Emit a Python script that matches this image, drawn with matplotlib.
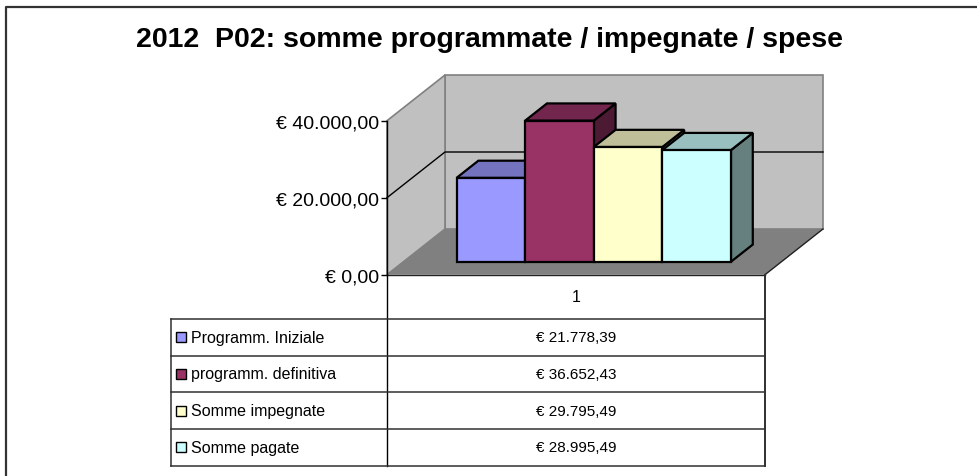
import matplotlib
matplotlib.use("Agg")
import matplotlib.pyplot as plt
from matplotlib.patches import Polygon
from matplotlib.lines import Line2D
from matplotlib.ticker import FuncFormatter
import matplotlib.colors as mcolors

# ---- data ----
series = ["Programm. Iniziale", "programm. definitiva", "Somme impegnate", "Somme pagate"]
values = [21778.39, 36652.43, 29795.49, 28995.49]
category = "1"
yticks = [0, 20000, 40000]
colors = ["#9999FF", "#993366", "#FFFFCC", "#CCFFFF"]
title = "2012  P02: somme programmate / impegnate / spese"

plt.rcParams['font.family'] = ['Liberation Sans', 'DejaVu Sans']

W, H = 978, 477
fig = plt.figure(figsize=(W / 100, H / 100), dpi=100)


def fx(px):
    return px / W


def fy(py):
    return 1 - py / H


def euro(v, pos=None):
    s = "{:,.2f}".format(v).replace(",", "X").replace(".", ",").replace("X", ".")
    return "\u20ac " + s


# ---- main 3D-like plot (front plane axes) ----
ax = fig.add_axes([fx(387), fy(275.7), (765 - 387) / W, (275.7 - 121.7) / H])
XMIN, XMAX = -1.274, 4.236
YMAX = max(yticks)
ax.set_xlim(XMIN, XMAX)
ax.set_ylim(0, YMAX)
ax.patch.set_visible(False)
for s in ["top", "right", "bottom"]:
    ax.spines[s].set_visible(False)
ax.spines["left"].set_color("black")
ax.spines["left"].set_linewidth(1)
ax.spines["left"].set_zorder(20)
ax.set_xticks([])
ax.set_yticks(yticks)
ax.yaxis.set_major_formatter(FuncFormatter(euro))
ax.tick_params(axis="y", direction="out", length=4, width=1, labelsize=14, pad=2)

# oblique depth (in data units)
px_x = (XMAX - XMIN) / (765 - 387)
px_y = YMAX / (275.7 - 121.7)
DX = 58 * px_x
DY = 45.7 * px_y


def P(x, y, z):
    return (x + z * DX, y + z * DY)


def poly(pts, fc, ec, lw, z):
    p = Polygon([P(*q) for q in pts], closed=True, facecolor=fc, edgecolor=ec,
                linewidth=lw, clip_on=False, zorder=z, joinstyle="miter")
    ax.add_patch(p)


wall = "#C0C0C0"
# back wall
poly([(XMIN, 0, 1), (XMAX, 0, 1), (XMAX, YMAX, 1), (XMIN, YMAX, 1)], wall, "#808080", 1.2, 1)
# side wall
poly([(XMIN, 0, 0), (XMIN, 0, 1), (XMIN, YMAX, 1), (XMIN, YMAX, 0)], wall, "#808080", 1.2, 1)
# floor
poly([(XMIN, 0, 0), (XMAX, 0, 0), (XMAX, 0, 1), (XMIN, 0, 1)], "#808080", "none", 0, 2)
fr = [P(XMAX, 0, 0), P(XMAX, 0, 1)]
ax.add_line(Line2D([fr[0][0], fr[1][0]], [fr[0][1], fr[1][1]], color="#202020", lw=1, clip_on=False, zorder=3))
ax.add_line(Line2D([XMIN, XMAX], [0, 0], color="#202020", lw=1, clip_on=False, zorder=3))

# gridlines
for t in yticks:
    if 0 < t < YMAX:
        a, b, c = P(XMIN, t, 0), P(XMIN, t, 1), P(XMAX, t, 1)
        ax.add_line(Line2D([a[0], b[0], c[0]], [a[1], b[1], c[1]], color="black", lw=1,
                           clip_on=False, zorder=2))

# bars
Z0, Z1 = 0.284, 0.66
for i, (v, c) in enumerate(zip(values, colors)):
    x0, x1 = i - 0.5, i + 0.5
    rgb = mcolors.to_rgb(c)
    top = tuple(k * 0.75 for k in rgb)
    side = tuple(k * 0.5 for k in rgb)
    zb = 5 + i * 3
    poly([(x1, 0, Z0), (x1, 0, Z1), (x1, v, Z1), (x1, v, Z0)], side, "black", 1.6, zb)
    poly([(x0, v, Z0), (x1, v, Z0), (x1, v, Z1), (x0, v, Z1)], top, "black", 1.6, zb + 1)
    poly([(x0, 0, Z0), (x1, 0, Z0), (x1, v, Z0), (x0, v, Z0)], c, "black", 1.6, zb + 2)

# ---- data table ----
T_L, T_R, T_T, T_B = 170.7, 765, 276, 466.7
tax = fig.add_axes([fx(T_L), fy(T_B), (T_R - T_L) / W, (T_B - T_T) / H])
tax.axis("off")
n = len(series)
HDR = 44 / 36.7
tax.set_xlim(0, 1)
tax.set_ylim(-n, HDR)
split = (387 - T_L) / (T_R - T_L)
lc = "#303030"
lw = 1.1
tax.plot([split, split], [-n, HDR], color="black", lw=1, clip_on=False)
tax.plot([1, 1], [-n, HDR], color=lc, lw=1.4, clip_on=False)
tax.plot([0, 0], [-n, 0], color=lc, lw=lw, clip_on=False)
for k in range(n + 1):
    tax.plot([0, 1], [-k, -k], color=lc, lw=lw, clip_on=False)
xc = (split + 1) / 2
tax.text(xc, HDR / 2, category, ha="center", va="center", fontsize=11.5)
key_x = (181 - T_L) / (T_R - T_L)
lab_x = (191 - T_L) / (T_R - T_L)
for i, (name, v, c) in enumerate(zip(series, values, colors)):
    yc = -i - 0.5
    tax.plot([key_x], [yc], marker="s", markersize=7, markerfacecolor=c,
             markeredgecolor="black", markeredgewidth=1, clip_on=False)
    tax.text(lab_x, yc, name, ha="left", va="center", fontsize=11.5)
    tax.text(xc, yc, euro(v), ha="center", va="center", fontsize=11)

# ---- title & frame ----
fig.text(fx(489.5), fy(40), title, ha="center", va="center", fontsize=20.5, fontweight="bold")
fig.add_artist(Line2D([fx(6), fx(6), 1.0], [0, fy(8), fy(8)], color="#333333", lw=1.6,
                      transform=fig.transFigure))

fig.savefig("out.png", dpi=100)
